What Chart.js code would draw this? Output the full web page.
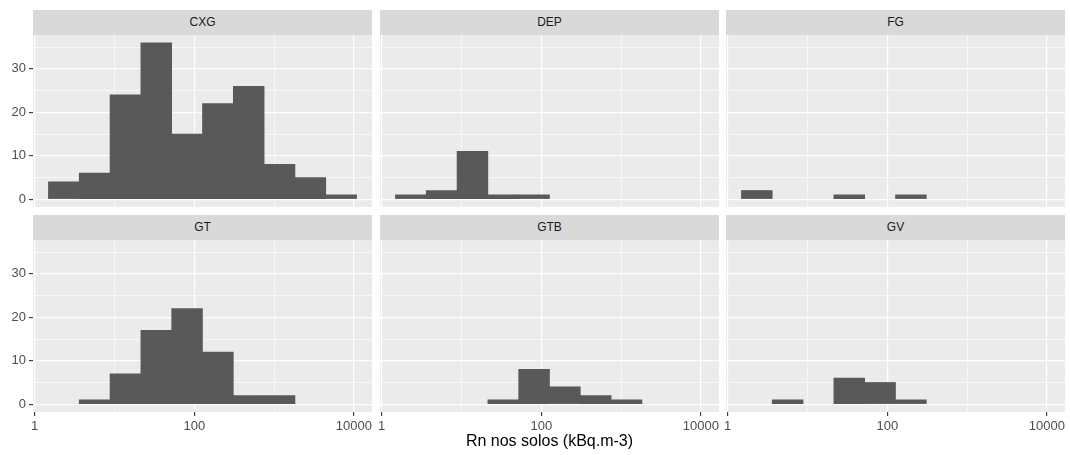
<!DOCTYPE html>
<html>
<head>
<meta charset="utf-8">
<script src="https://cdn.jsdelivr.net/npm/chart.js@4/dist/chart.umd.min.js"></script>
<style>
  html, body { margin: 0; padding: 0; background: #ffffff; }
  body { width: 1070px; height: 455px; position: relative; overflow: hidden;
         font-family: "Liberation Sans", Arial, sans-serif; }
  canvas { position: absolute; }
  .strip { position: absolute; background: #D9D9D9; color: #1A1A1A;
           font-size: 12px; text-align: center; }
</style>
</head>
<body>
<script>
// ---- data -------------------------------------------------------------
const panelNames = ['CXG', 'DEP', 'FG', 'GT', 'GTB', 'GV'];

// histogram bin midpoints (kBq.m-3), equal width on a log10 scale
const binMidpoints = [2.318, 5.640, 13.73, 33.40, 81.26, 197.7, 481.1, 1171, 2849, 6933];

const countsCXG = [4, 6, 24, 36, 15, 22, 26, 8, 5, 1];
const countsDEP = [1, 2, 11, 1, 1, 0, 0, 0, 0, 0];
const countsFG  = [2, 0, 0, 1, 0, 1, 0, 0, 0, 0];
const countsGT  = [0, 1, 7, 17, 22, 12, 2, 2, 0, 0];
const countsGTB = [0, 0, 0, 1, 8, 4, 2, 1, 0, 0];
const countsGV  = [0, 1, 0, 6, 5, 1, 0, 0, 0, 0];

const xTickValues = [1, 10, 100, 1000, 10000];
const xTickLabels = ['1', '', '100', '', '10000'];
const yTickValues = [0, 5, 10, 15, 20, 25, 30, 35];
const yTickLabels = ['0', '', '10', '', '20', '', '30', ''];
const xTitle = 'Rn nos solos (kBq.m-3)';

// ---- layout / styling -------------------------------------------------
const panelCounts = [countsCXG, countsDEP, countsFG, countsGT, countsGTB, countsGV];
const colBounds = [[33, 372], [380, 719], [726, 1065]];
const rowBounds = [
  { strip: 10,  top: 35,  bottom: 207 },
  { strip: 215, top: 240, bottom: 412 }
];
const xRange = { min: 0.9526, max: 16866 };
const yRange = { min: -1.8, max: 37.8 };

const FONT = '"Liberation Sans", Arial, sans-serif';
Chart.defaults.font.family = FONT;

const panelBackground = {
  id: 'panelBackground',
  beforeDraw(chart) {
    const { ctx, chartArea: a } = chart;
    ctx.save();
    ctx.fillStyle = '#EBEBEB';
    ctx.fillRect(a.left, a.top, a.right - a.left, a.bottom - a.top);
    ctx.restore();
  }
};

const MARGIN = 14;

panelNames.forEach((name, i) => {
  const r = Math.floor(i / 3), c = i % 3;
  const [colL, colR] = colBounds[c];
  const row = rowBounds[r];

  // strip label above the panel
  const strip = document.createElement('div');
  strip.className = 'strip';
  strip.textContent = name;
  strip.style.left = colL + 'px';
  strip.style.width = (colR - colL) + 'px';
  strip.style.top = row.strip + 'px';
  strip.style.height = (row.top - row.strip) + 'px';
  strip.style.lineHeight = (row.top - row.strip) + 'px';
  document.body.appendChild(strip);

  const left = c === 0 ? 0 : colL - MARGIN;
  const right = Math.min(1070, colR + MARGIN);
  const top = row.top - MARGIN;
  const bottom = r === 1 ? 455 : row.bottom + 6;

  const canvas = document.createElement('canvas');
  canvas.width = right - left;
  canvas.height = bottom - top;
  canvas.style.left = left + 'px';
  canvas.style.top = top + 'px';
  document.body.appendChild(canvas);

  const leftCol = c === 0;
  const bottomRow = r === 1;
  const yAxisWidth = colL - left;
  const xAxisHeight = bottom - row.bottom;

  new Chart(canvas, {
    type: 'bar',
    data: {
      datasets: [{
        data: binMidpoints.map((x, k) => ({ x: x, y: panelCounts[i][k] })),
        backgroundColor: '#595959',
        borderWidth: 0,
        // empty bins stay invisible; filled bins are widened slightly so neighbours meet
        inflateAmount: ctx => (ctx.raw && ctx.raw.y > 0 ? 0.33 : 0),
        barPercentage: 1,
        categoryPercentage: 1
      }]
    },
    options: {
      responsive: false,
      animation: false,
      events: [],
      layout: { padding: { left: 0, right: right - colR, top: MARGIN, bottom: 0 } },
      plugins: { legend: { display: false }, tooltip: { enabled: false } },
      scales: {
        x: {
          type: 'logarithmic',
          position: 'bottom',
          min: xRange.min,
          max: xRange.max,
          bounds: 'data',
          offset: false,
          border: { display: false },
          grid: {
            offset: false,
            color: '#FFFFFF',
            lineWidth: ctx => (ctx.tick && xTickLabels[xTickValues.indexOf(ctx.tick.value)] ? 1.2 : 0.6),
            drawTicks: bottomRow,
            tickLength: 4,
            tickWidth: 1.1,
            tickColor: ctx => (ctx.tick && xTickLabels[xTickValues.indexOf(ctx.tick.value)] ? '#333333' : 'rgba(0,0,0,0)')
          },
          afterBuildTicks: s => { s.ticks = xTickValues.map(v => ({ value: v })); },
          afterFit: s => { s.height = xAxisHeight; s.paddingLeft = 0; s.paddingRight = 0; },
          ticks: {
            display: bottomRow,
            autoSkip: false,
            maxRotation: 0,
            padding: 3,
            color: '#4D4D4D',
            font: { size: 13 },
            callback: v => { const k = xTickValues.indexOf(v); return k >= 0 ? xTickLabels[k] : ''; }
          },
          title: {
            display: bottomRow && c === 1,
            text: xTitle,
            color: '#000000',
            font: { size: 16 },
            padding: { top: 0, bottom: 4 }
          }
        },
        y: {
          type: 'linear',
          min: yRange.min,
          max: yRange.max,
          bounds: 'data',
          border: { display: false },
          grid: {
            color: '#FFFFFF',
            lineWidth: ctx => (ctx.tick && ctx.tick.value % 10 === 0 ? 1.2 : 0.6),
            drawTicks: leftCol,
            tickLength: 4,
            tickWidth: 1.1,
            tickColor: ctx => (ctx.tick && ctx.tick.value % 10 === 0 ? '#333333' : 'rgba(0,0,0,0)')
          },
          afterBuildTicks: s => { s.ticks = yTickValues.map(v => ({ value: v })); },
          afterFit: s => { s.width = yAxisWidth; s.paddingTop = 0; s.paddingBottom = 0; },
          ticks: {
            display: leftCol,
            autoSkip: false,
            padding: 3,
            color: '#4D4D4D',
            font: { size: 13 },
            callback: v => { const k = yTickValues.indexOf(v); return k >= 0 ? yTickLabels[k] : ''; }
          }
        }
      }
    },
    plugins: [panelBackground]
  });
});
</script>
</body>
</html>
